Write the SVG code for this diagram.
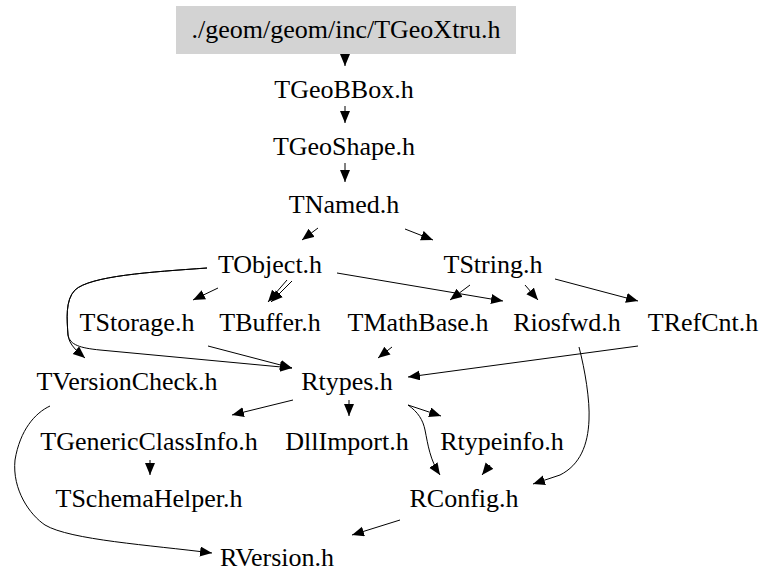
<svg xmlns="http://www.w3.org/2000/svg" width="776" height="587" viewBox="0 0 776 587">
<defs>
<style>
.n{font-family:"Liberation Serif","Times New Roman",serif;font-size:26px;fill:#000;text-anchor:middle}
.e{fill:none;stroke:#000;stroke-width:1;marker-end:url(#ah)}
</style>
<marker id="ah" markerUnits="userSpaceOnUse" markerWidth="14" markerHeight="12" refX="12" refY="5" orient="auto">
<path d="M0,0 L12,5 L0,10 z" fill="#000"/>
</marker>
</defs>
<rect width="776" height="587" fill="#fff"/>
<g id="connectors">
<path class="e" d="M345,54 L345,66"/>
<path class="e" d="M345,106 L345,123"/>
<path class="e" d="M345,163 L345,182"/>
<path class="e" d="M318,228 L302,240"/>
<path class="e" d="M405,229 L433,240"/>
<path class="e" d="M218,288 L193,300"/>
<path class="e" d="M287,280 L268,302"/>
<path class="e" d="M292,281 L271,302"/>
<path class="e" d="M207,268 C150,272 90,276 75,290 C65,300 67,320 68,335 C69,345 78,352 85,358"/>
<path class="e" d="M207,268 C150,272 90,276 75,290 C65,300 67,320 68,335 C70,345 80,348 100,350 L292,368"/>
<path class="e" d="M208,346 L292,368"/>
<path class="e" d="M337,273 L503,301"/>
<path class="e" d="M470,285 L450,300"/>
<path class="e" d="M525,285 L538,300"/>
<path class="e" d="M555,279 L638,301"/>
<path class="e" d="M392,347 L378,358"/>
<path class="e" d="M638,346 L408,377"/>
<path class="e" d="M579,347 C585,370 590,400 589,420 C588,445 580,465 560,475 L533,484"/>
<path class="e" d="M293,400 L232,415"/>
<path class="e" d="M349,400 L349,416"/>
<path class="e" d="M408,405 L441,416"/>
<path class="e" d="M408,405 C418,412 423,420 425,430 C428,445 430,460 440,475"/>
<path class="e" d="M490,465 L482,475"/>
<path class="e" d="M150,460 L150,475"/>
<path class="e" d="M50,406 C35,413 20,430 15,460 C12,490 30,515 45,525 C70,540 150,545 212,553"/>
<path class="e" d="M400,520 L352,535"/>
</g>
<g id="TGeoXtru"><rect x="176" y="6" width="340" height="48" fill="#d3d3d3"/><text class="n" x="346" y="38">./geom/geom/inc/TGeoXtru.h</text></g>
<g id="TGeoBBox"><text class="n" x="344" y="98">TGeoBBox.h</text></g>
<g id="TGeoShape"><text class="n" x="344" y="155">TGeoShape.h</text></g>
<g id="TNamed"><text class="n" x="344" y="213">TNamed.h</text></g>
<g id="TObject"><text class="n" x="270" y="273">TObject.h</text></g>
<g id="TString"><text class="n" x="493" y="273">TString.h</text></g>
<g id="TStorage"><text class="n" x="137" y="331">TStorage.h</text></g>
<g id="TBuffer"><text class="n" x="270" y="331">TBuffer.h</text></g>
<g id="TMathBase"><text class="n" x="418" y="331">TMathBase.h</text></g>
<g id="Riosfwd"><text class="n" x="567" y="331">Riosfwd.h</text></g>
<g id="TRefCnt"><text class="n" x="703" y="331">TRefCnt.h</text></g>
<g id="TVersionCheck"><text class="n" x="127" y="390">TVersionCheck.h</text></g>
<g id="Rtypes"><text class="n" x="347" y="390">Rtypes.h</text></g>
<g id="TGenericClassInfo"><text class="n" x="149" y="450">TGenericClassInfo.h</text></g>
<g id="DllImport"><text class="n" x="347" y="450">DllImport.h</text></g>
<g id="Rtypeinfo"><text class="n" x="502" y="450">Rtypeinfo.h</text></g>
<g id="TSchemaHelper"><text class="n" x="149" y="507">TSchemaHelper.h</text></g>
<g id="RConfig"><text class="n" x="464" y="507">RConfig.h</text></g>
<g id="RVersion"><text class="n" x="277" y="566">RVersion.h</text></g>
</svg>
